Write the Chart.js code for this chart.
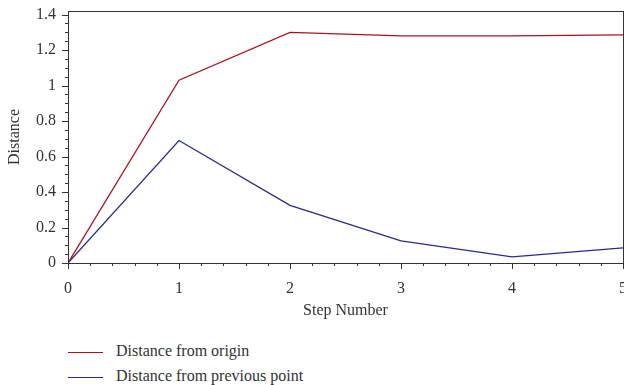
<!DOCTYPE html>
<html>
<head>
<meta charset="utf-8">
<script src="https://cdn.jsdelivr.net/npm/chart.js@4.4.0/dist/chart.umd.min.js"></script>
<style>
  body { margin: 0; background: #fff; font-family: "Liberation Serif", "DejaVu Serif", serif; }
  #wrap { position: relative; width: 624px; height: 385px; }
  #box { position: absolute; left: 0; top: 0; width: 624px; height: 320px; }
  .leg { position: absolute; left: 68px; font-size: 16px; color: #333; height: 20px; line-height: 20px; }
  .leg span.ln { display: inline-block; width: 35px; height: 0; border-top: 1.3px solid; vertical-align: middle; margin-right: 13px; }
</style>
</head>
<body>
<div id="wrap">
  <div id="box"><canvas id="myChart"></canvas></div>
  <div class="leg" style="top:341px"><span class="ln" style="border-color:#a8141e"></span>Distance from origin</div>
  <div class="leg" style="top:366px"><span class="ln" style="border-color:#2b2a8a"></span>Distance from previous point</div>
</div>
<script>
let steps = [0, 1, 2, 3, 4, 5];
let fromOrigin = [0, 1.03, 1.30, 1.28, 1.28, 1.285];
let fromPrevious = [0, 0.69, 0.325, 0.125, 0.035, 0.085];
let xTickLabels = ['0', '1', '2', '3', '4', '5'];
let yTickLabels = ['0', '0.2', '0.4', '0.6', '0.8', '1', '1.2', '1.4'];

let serif = "'Liberation Serif', 'DejaVu Serif', serif";
let ink = '#333';

function pts(ys) {
  return steps.map((s, i) => ({ x: s, y: ys[i] }));
}

function isStep(v, step) {
  return Math.abs(v / step - Math.round(v / step)) < 1e-6;
}

// ticks + frame drawn by hand: major ticks longer than minor ones
let frameTicks = {
  id: 'frameTicks',
  afterDraw(chart) {
    let ctx = chart.ctx;
    let a = chart.chartArea;
    let xs = chart.scales.x, ys = chart.scales.y;
    ctx.save();
    ctx.strokeStyle = ink;
    ctx.lineWidth = 1;
    ctx.beginPath();
    xs.ticks.forEach(t => {
      let px = Math.round(xs.getPixelForValue(t.value)) + 0.5;
      let len = isStep(t.value, 1) ? 6 : 3;
      ctx.moveTo(px, a.bottom);
      ctx.lineTo(px, a.bottom + len);
    });
    ys.ticks.forEach(t => {
      let py = Math.round(ys.getPixelForValue(t.value)) + 0.5;
      let len = isStep(t.value, 0.2) ? 6 : 3;
      ctx.moveTo(a.left, py);
      ctx.lineTo(a.left - len, py);
    });
    ctx.stroke();
    ctx.strokeRect(Math.round(a.left) + 0.5, Math.round(a.top) + 0.5,
      Math.round(a.right - a.left), Math.round(a.bottom - a.top));
    ctx.restore();
  }
};

let myChart = document.getElementById('myChart').getContext('2d');

let chart = new Chart(myChart, {
  type: 'line',
  data: {
    datasets: [{
      label: 'Distance from origin',
      data: pts(fromOrigin),
      borderColor: '#a8141e',
      borderWidth: 1.3,
      pointRadius: 0,
      tension: 0
    }, {
      label: 'Distance from previous point',
      data: pts(fromPrevious),
      borderColor: '#2b2a8a',
      borderWidth: 1.3,
      pointRadius: 0,
      tension: 0
    }]
  },
  plugins: [frameTicks],
  options: {
    responsive: true,
    maintainAspectRatio: false,
    animation: false,
    layout: { padding: { top: 11, right: 1, left: 0, bottom: 0 } },
    plugins: {
      legend: { display: false },
      tooltip: { enabled: false }
    },
    scales: {
      x: {
        type: 'linear',
        min: 0,
        max: 5,
        border: { display: false },
        grid: { display: true, drawOnChartArea: false, tickColor: 'transparent', tickLength: 6 },
        ticks: {
          stepSize: 0.2,
          autoSkip: false,
          maxRotation: 0,
          padding: 10,
          color: ink,
          font: { family: serif, size: 16 },
          callback: (v) => isStep(v, 1) ? xTickLabels[Math.round(v)] : ''
        },
        title: {
          display: true,
          text: 'Step Number',
          color: ink,
          font: { family: serif, size: 16 },
          padding: { top: 0, bottom: 0 }
        },
        afterFit: (s) => { s.height = 57; s.paddingRight = 0; s.paddingLeft = 0; }
      },
      y: {
        min: 0,
        max: 1.42,
        border: { display: false },
        grid: { display: true, drawOnChartArea: false, tickColor: 'transparent', tickLength: 6 },
        ticks: {
          stepSize: 0.05,
          includeBounds: false,
          autoSkip: false,
          padding: 6,
          color: ink,
          font: { family: serif, size: 16 },
          callback: (v) => isStep(v, 0.2) ? yTickLabels[Math.round(v / 0.2)] : ''
        },
        title: {
          display: true,
          text: 'Distance',
          color: ink,
          font: { family: serif, size: 16 },
          padding: { top: 5, bottom: 0 }
        },
        afterFit: (s) => { s.width = 68; s.paddingTop = 0; s.paddingBottom = 0; }
      }
    }
  }
});
</script>
</body>
</html>
